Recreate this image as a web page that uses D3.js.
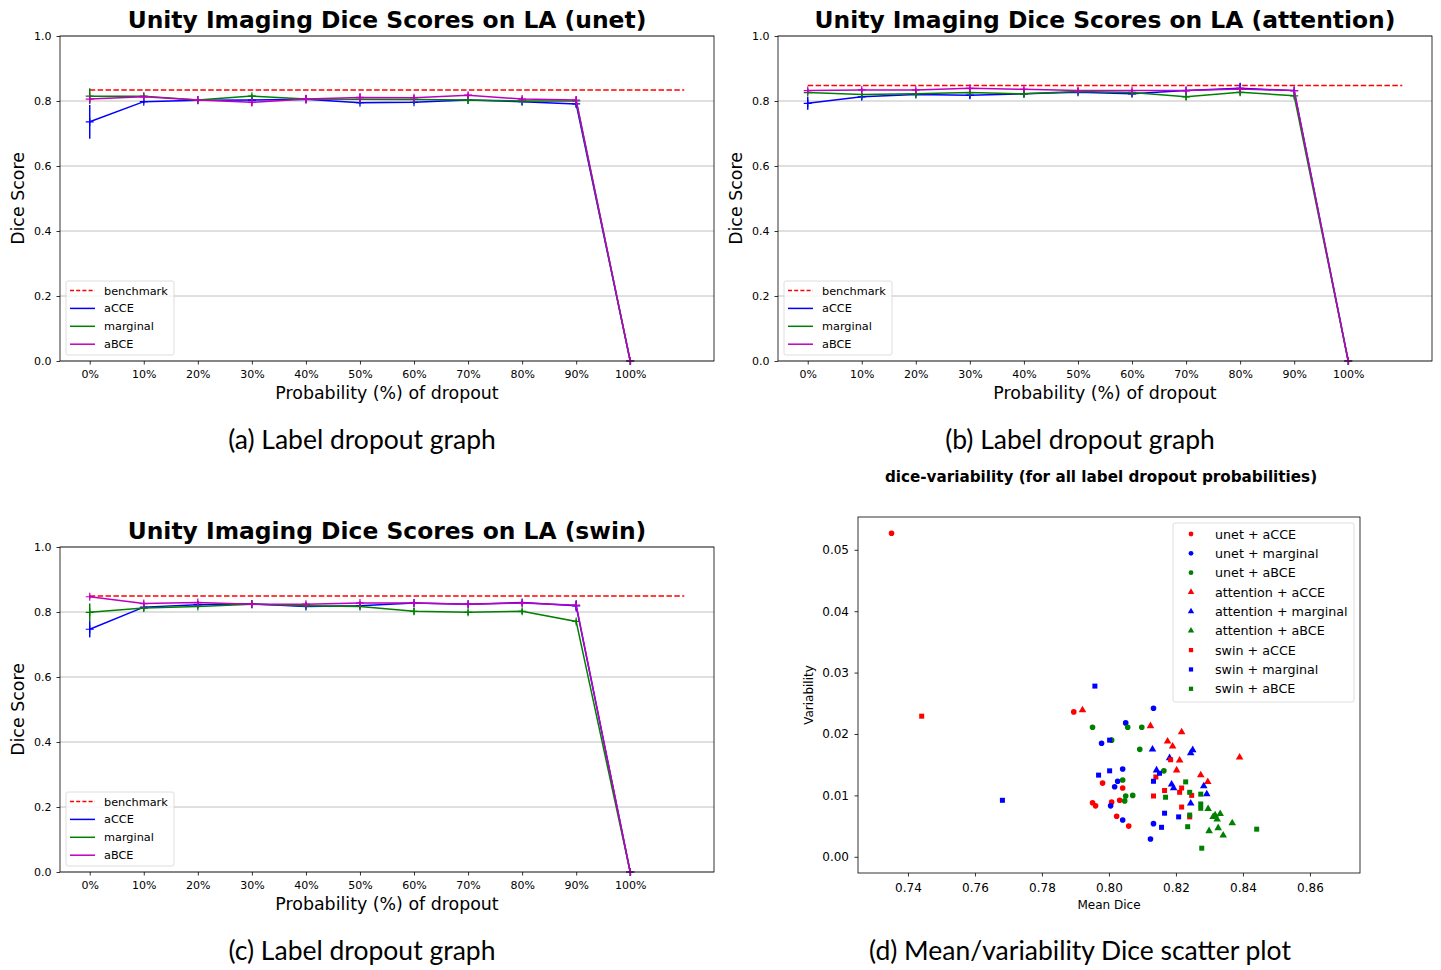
<!DOCTYPE html>
<html>
<head>
<meta charset="utf-8">
<script src="https://cdn.jsdelivr.net/npm/d3@7"></script>
<style>
  body { margin: 0; background: #fff; }
  svg { display: block; font-family: "DejaVu Sans", sans-serif; }
  .caption { font-family: Lato, "Open Sans", sans-serif; font-size: 26.5px; }
</style>
</head>
<body>
<svg id="fig" width="1441" height="970"></svg>
<script>
// ---- data ----
const probs = [0, 10, 20, 30, 40, 50, 60, 70, 80, 90, 100];
const probLabels = probs.map(p => p + "%");
const diceTicks = [0, 0.2, 0.4, 0.6, 0.8, 1.0];

// unet
const unetACCE = [0.736, 0.798, 0.802, 0.803, 0.805, 0.795, 0.796, 0.803, 0.798, 0.791, 0];
const unetACCEErr = [0.052, 0.006, 0.004, 0.005, 0.006, 0.005, 0.005, 0.005, 0.005, 0.01, 0];
const unetMarginal = [0.815, 0.815, 0.803, 0.815, 0.806, 0.805, 0.805, 0.803, 0.800, 0.800, 0];
const unetMarginalErr = [0.024, 0.006, 0.005, 0.006, 0.005, 0.005, 0.005, 0.005, 0.012, 0.008, 0];
const unetABCE = [0.806, 0.813, 0.803, 0.796, 0.806, 0.811, 0.810, 0.818, 0.806, 0.803, 0];
const unetABCEErr = [0.008, 0.005, 0.005, 0.012, 0.013, 0.013, 0.008, 0.008, 0.008, 0.012, 0];
const unetBenchmark = 0.834;

// attention
const attnACCE = [0.793, 0.813, 0.820, 0.818, 0.822, 0.827, 0.822, 0.832, 0.839, 0.832, 0];
const attnACCEErr = [0.02, 0.008, 0.005, 0.01, 0.008, 0.006, 0.008, 0.006, 0.017, 0.006, 0];
const attnMarginal = [0.826, 0.820, 0.822, 0.826, 0.822, 0.829, 0.826, 0.813, 0.827, 0.816, 0];
const attnMarginalErr = [0.006, 0.005, 0.008, 0.006, 0.008, 0.005, 0.005, 0.01, 0.01, 0.006, 0];
const attnABCE = [0.832, 0.834, 0.834, 0.839, 0.836, 0.832, 0.832, 0.832, 0.837, 0.832, 0];
const attnABCEErr = [0.006, 0.006, 0.005, 0.006, 0.006, 0.005, 0.005, 0.005, 0.005, 0.005, 0];
const attnBenchmark = 0.848;

// swin
const swinACCE = [0.747, 0.815, 0.822, 0.825, 0.817, 0.819, 0.828, 0.824, 0.829, 0.819, 0];
const swinACCEErr = [0.025, 0.006, 0.006, 0.006, 0.006, 0.005, 0.006, 0.005, 0.006, 0.017, 0];
const swinMarginal = [0.799, 0.812, 0.817, 0.824, 0.819, 0.817, 0.802, 0.799, 0.802, 0.771, 0];
const swinMarginalErr = [0.027, 0.006, 0.005, 0.005, 0.005, 0.006, 0.01, 0.008, 0.008, 0.006, 0];
const swinABCE = [0.847, 0.826, 0.829, 0.824, 0.824, 0.828, 0.828, 0.824, 0.828, 0.821, 0];
const swinABCEErr = [0.006, 0.006, 0.005, 0.005, 0.005, 0.005, 0.005, 0.005, 0.005, 0.005, 0];
const swinBenchmark = 0.849;

// scatter: [mean dice, variability]
const scUnetACCE = [[0.7351, 0.0527], [0.7895, 0.0236], [0.7981, 0.0120], [0.8041, 0.0112], [0.8032, 0.0092],
  [0.8008, 0.0089], [0.7951, 0.0088], [0.7960, 0.0083], [0.8023, 0.0066], [0.8059, 0.0050]];
const scUnetMarginal = [[0.8133, 0.0242], [0.8050, 0.0218], [0.7978, 0.0185], [0.8041, 0.0143], [0.8026, 0.0123],
  [0.8017, 0.0114], [0.8005, 0.0083], [0.8041, 0.0060], [0.8133, 0.0054], [0.8124, 0.0029]];
const scUnetABCE = [[0.7951, 0.0211], [0.8056, 0.0211], [0.8098, 0.0211], [0.8008, 0.0190], [0.8092, 0.0175],
  [0.8041, 0.0125], [0.8050, 0.0099], [0.8071, 0.0100], [0.8047, 0.0091], [0.8164, 0.0140]];
const scAttnACCE = [[0.7921, 0.0239], [0.8124, 0.0213], [0.8217, 0.0203], [0.8175, 0.0188], [0.8190, 0.0180],
  [0.8390, 0.0162], [0.8211, 0.0157], [0.8202, 0.0141], [0.8274, 0.0133], [0.8295, 0.0122]];
const scAttnMarginal = [[0.8130, 0.0175], [0.8250, 0.0174], [0.8244, 0.0169], [0.8181, 0.0161], [0.8142, 0.0141],
  [0.8187, 0.0118], [0.8193, 0.0112], [0.8283, 0.0115], [0.8292, 0.0102], [0.8244, 0.0087]];
const scAttnABCE = [[0.8296, 0.0078], [0.8332, 0.0070], [0.8317, 0.0068], [0.8311, 0.0065], [0.8323, 0.0061],
  [0.8368, 0.0055], [0.8299, 0.0042], [0.8326, 0.0047], [0.8341, 0.0035]];
const scSwinACCE = [[0.7441, 0.0229], [0.8140, 0.0130], [0.8184, 0.0158], [0.8217, 0.0112], [0.8211, 0.0105],
  [0.8166, 0.0108], [0.8247, 0.0100], [0.8133, 0.0099], [0.8217, 0.0081], [0.8241, 0.0065]];
const scSwinMarginal = [[0.7958, 0.0278], [0.8002, 0.0190], [0.7969, 0.0133], [0.8002, 0.0140], [0.8133, 0.0123],
  [0.8151, 0.0136], [0.8166, 0.0071], [0.8157, 0.0048], [0.8208, 0.0065], [0.7682, 0.0092]];
const scSwinABCE = [[0.8169, 0.0097], [0.8229, 0.0122], [0.8241, 0.0105], [0.8274, 0.0102], [0.8274, 0.0086],
  [0.8274, 0.0079], [0.8241, 0.0068], [0.8235, 0.0049], [0.8441, 0.0045], [0.8277, 0.0014]];
const meanTicks = [0.74, 0.76, 0.78, 0.80, 0.82, 0.84, 0.86];
const varTicks = [0, 0.01, 0.02, 0.03, 0.04, 0.05];

const svg = d3.select("#fig");
const seriesColors = { aCCE: "#0000ff", marginal: "#008000", aBCE: "#bf00bf" };

// d3 axes set their own font on the group; take it back to the page font
const styleAxis = (a, size) => {
  a.attr("font-family", null).attr("font-size", null);
  a.select(".domain").remove();
  a.selectAll("text").attr("font-size", size).attr("fill", "#000");
  a.selectAll(".tick line").attr("stroke", "#000").attr("stroke-width", 0.8);
};

const drawLinePanel = (cfg) => {
  const { left, top, w, h } = cfg;
  const g = svg.append("g").attr("transform", `translate(${left}, ${top})`);

  const xScale = d3.scaleLinear().domain([-5.5, 115.5]).range([0, w]);
  const yScale = d3.scaleLinear().domain([0, 1]).range([h, 0]);

  // grid
  g.append("g")
    .selectAll("line")
    .data(diceTicks)
    .join("line")
      .attr("x1", 0).attr("x2", w)
      .attr("y1", d => yScale(d)).attr("y2", d => yScale(d))
      .attr("stroke", "#b0b0b0").attr("stroke-width", 0.8);

  const leftAxis = d3.axisLeft(yScale)
    .tickValues(diceTicks)
    .tickFormat(d3.format(".1f"))
    .tickSize(3.5).tickPadding(5);
  const bottomAxis = d3.axisBottom(xScale)
    .tickValues(probs)
    .tickFormat((d, i) => probLabels[i])
    .tickSize(3.5).tickPadding(5.5);

  g.append("g").call(leftAxis).call(a => styleAxis(a, 11));
  g.append("g").attr("transform", `translate(0, ${h})`).call(bottomAxis).call(a => styleAxis(a, 11));

  // benchmark
  g.append("line")
    .attr("x1", xScale(0)).attr("x2", xScale(110))
    .attr("y1", yScale(cfg.benchmark)).attr("y2", yScale(cfg.benchmark))
    .attr("stroke", "#ff0000").attr("stroke-width", 1.5)
    .attr("stroke-dasharray", "5.5,2.4");

  const line = d3.line().x((d, i) => xScale(probs[i])).y(d => yScale(d));

  cfg.series.forEach(s => {
    const col = seriesColors[s.key];
    const sg = g.append("g");
    sg.append("path")
      .datum(s.values)
      .attr("d", line)
      .attr("fill", "none").attr("stroke", col).attr("stroke-width", 1.5);
    // error bars
    sg.selectAll(".err")
      .data(s.values)
      .join("line")
        .attr("class", "err")
        .attr("x1", (d, i) => xScale(probs[i])).attr("x2", (d, i) => xScale(probs[i]))
        .attr("y1", (d, i) => yScale(d - s.err[i])).attr("y2", (d, i) => yScale(d + s.err[i]))
        .attr("stroke", col).attr("stroke-width", 1.5);
    // + markers
    sg.selectAll(".mk")
      .data(s.values)
      .join("path")
        .attr("class", "mk")
        .attr("d", (d, i) => {
          const x = xScale(probs[i]), y = yScale(d);
          return `M${x - 4},${y}H${x + 4}M${x},${y - 4}V${y + 4}`;
        })
        .attr("stroke", col).attr("stroke-width", 1.2);
  });

  // frame
  g.append("rect").attr("width", w).attr("height", h)
    .attr("fill", "none").attr("stroke", "#000").attr("stroke-width", 0.8);

  // title + labels
  g.append("text")
    .attr("x", w / 2).attr("y", -8)
    .attr("text-anchor", "middle")
    .attr("font-size", 23.4).attr("font-weight", "bold")
    .text(cfg.title);
  g.append("text")
    .attr("x", w / 2).attr("y", h + 38)
    .attr("text-anchor", "middle")
    .attr("font-size", 17.4)
    .text("Probability (%) of dropout");
  g.append("text")
    .attr("transform", `translate(${-36}, ${h / 2}) rotate(-90)`)
    .attr("text-anchor", "middle")
    .attr("font-size", 17.4)
    .text("Dice Score");

  // legend
  const lg = g.append("g").attr("transform", `translate(6, ${h - 80})`);
  lg.append("rect")
    .attr("width", 108).attr("height", 74).attr("rx", 2)
    .attr("fill", "#fff").attr("fill-opacity", 0.8)
    .attr("stroke", "#d6d6d6").attr("stroke-width", 0.8);
  const entries = [{ label: "benchmark", col: "#ff0000", dash: "4,2.2" }]
    .concat(cfg.series.map(s => ({ label: s.key, col: seriesColors[s.key], dash: null })));
  entries.forEach((e, i) => {
    const y = 9.5 + i * 17.9;
    lg.append("line")
      .attr("x1", 4).attr("x2", 29).attr("y1", y).attr("y2", y)
      .attr("stroke", e.col).attr("stroke-width", 1.5)
      .attr("stroke-dasharray", e.dash);
    lg.append("text")
      .attr("x", 38).attr("y", y + 4)
      .attr("font-size", 11.3)
      .text(e.label);
  });
};

drawLinePanel({
  left: 60, top: 36, w: 654, h: 325, benchmark: unetBenchmark,
  title: "Unity Imaging Dice Scores on LA (unet)",
  series: [
    { key: "aCCE", values: unetACCE, err: unetACCEErr },
    { key: "marginal", values: unetMarginal, err: unetMarginalErr },
    { key: "aBCE", values: unetABCE, err: unetABCEErr }
  ]
});
drawLinePanel({
  left: 778, top: 36, w: 654, h: 325, benchmark: attnBenchmark,
  title: "Unity Imaging Dice Scores on LA (attention)",
  series: [
    { key: "aCCE", values: attnACCE, err: attnACCEErr },
    { key: "marginal", values: attnMarginal, err: attnMarginalErr },
    { key: "aBCE", values: attnABCE, err: attnABCEErr }
  ]
});
drawLinePanel({
  left: 60, top: 547, w: 654, h: 325, benchmark: swinBenchmark,
  title: "Unity Imaging Dice Scores on LA (swin)",
  series: [
    { key: "aCCE", values: swinACCE, err: swinACCEErr },
    { key: "marginal", values: swinMarginal, err: swinMarginalErr },
    { key: "aBCE", values: swinABCE, err: swinABCEErr }
  ]
});

/*******************************/
/*        scatter panel        */
/*******************************/
const sc = { left: 858, top: 517, w: 502, h: 356 };
const sg = svg.append("g").attr("transform", `translate(${sc.left}, ${sc.top})`);
const xS = d3.scaleLinear().domain([0.72509, 0.87494]).range([0, sc.w]);
const yS = d3.scaleLinear().domain([-0.00264, 0.05534]).range([sc.h, 0]);

sg.append("g").attr("transform", `translate(0, ${sc.h})`)
  .call(d3.axisBottom(xS).tickValues(meanTicks).tickFormat(d3.format(".2f")).tickSize(3.5).tickPadding(7))
  .call(a => styleAxis(a, 12));
sg.append("g")
  .call(d3.axisLeft(yS).tickValues(varTicks).tickFormat(d3.format(".2f")).tickSize(3.5).tickPadding(5.5))
  .call(a => styleAxis(a, 12));

const scatterSets = [
  { label: "unet + aCCE", data: scUnetACCE, col: "#ff0000", shape: d3.symbolCircle, size: 25 },
  { label: "unet + marginal", data: scUnetMarginal, col: "#0000ff", shape: d3.symbolCircle, size: 25 },
  { label: "unet + aBCE", data: scUnetABCE, col: "#008000", shape: d3.symbolCircle, size: 25 },
  { label: "attention + aCCE", data: scAttnACCE, col: "#ff0000", shape: d3.symbolTriangle, size: 25 },
  { label: "attention + marginal", data: scAttnMarginal, col: "#0000ff", shape: d3.symbolTriangle, size: 25 },
  { label: "attention + aBCE", data: scAttnABCE, col: "#008000", shape: d3.symbolTriangle, size: 25 },
  { label: "swin + aCCE", data: scSwinACCE, col: "#ff0000", shape: d3.symbolSquare, size: 25 },
  { label: "swin + marginal", data: scSwinMarginal, col: "#0000ff", shape: d3.symbolSquare, size: 25 },
  { label: "swin + aBCE", data: scSwinABCE, col: "#008000", shape: d3.symbolSquare, size: 25 }
];

scatterSets.forEach(s => {
  sg.selectAll(null)
    .data(s.data)
    .join("path")
      .attr("transform", d => `translate(${xS(d[0])}, ${yS(d[1])})`)
      .attr("d", d3.symbol(s.shape, s.size))
      .attr("fill", s.col);
});

sg.append("rect").attr("width", sc.w).attr("height", sc.h)
  .attr("fill", "none").attr("stroke", "#000").attr("stroke-width", 0.8);

sg.append("text")
  .attr("x", sc.w / 2 - 8).attr("y", -35)
  .attr("text-anchor", "middle")
  .attr("font-size", 15.2).attr("font-weight", "bold")
  .text("dice-variability (for all label dropout probabilities)");
sg.append("text")
  .attr("x", sc.w / 2).attr("y", sc.h + 36)
  .attr("text-anchor", "middle").attr("font-size", 12)
  .text("Mean Dice");
sg.append("text")
  .attr("transform", `translate(-45, ${sc.h / 2}) rotate(-90)`)
  .attr("text-anchor", "middle").attr("font-size", 12)
  .text("Variability");

const slg = sg.append("g").attr("transform", `translate(315, 6)`);
slg.append("rect")
  .attr("width", 181).attr("height", 179).attr("rx", 2)
  .attr("fill", "#fff").attr("fill-opacity", 0.8)
  .attr("stroke", "#d6d6d6").attr("stroke-width", 0.8);
scatterSets.forEach((s, i) => {
  const y = 11 + i * 19.35;
  slg.append("path")
    .attr("transform", `translate(18, ${y})`)
    .attr("d", d3.symbol(s.shape, 18))
    .attr("fill", s.col);
  slg.append("text")
    .attr("x", 42).attr("y", y + 4.5)
    .attr("font-size", 12.7)
    .text(s.label);
});

// captions
const captions = [
  { text: "(a) Label dropout graph", x: 362, y: 449 },
  { text: "(b) Label dropout graph", x: 1080, y: 449 },
  { text: "(c) Label dropout graph", x: 362, y: 960 },
  { text: "(d) Mean/variability Dice scatter plot", x: 1080, y: 960 }
];
svg.selectAll(".caption")
  .data(captions)
  .join("text")
    .attr("class", "caption")
    .attr("x", d => d.x).attr("y", d => d.y)
    .attr("text-anchor", "middle")
    .text(d => d.text);
</script>
</body>
</html>
